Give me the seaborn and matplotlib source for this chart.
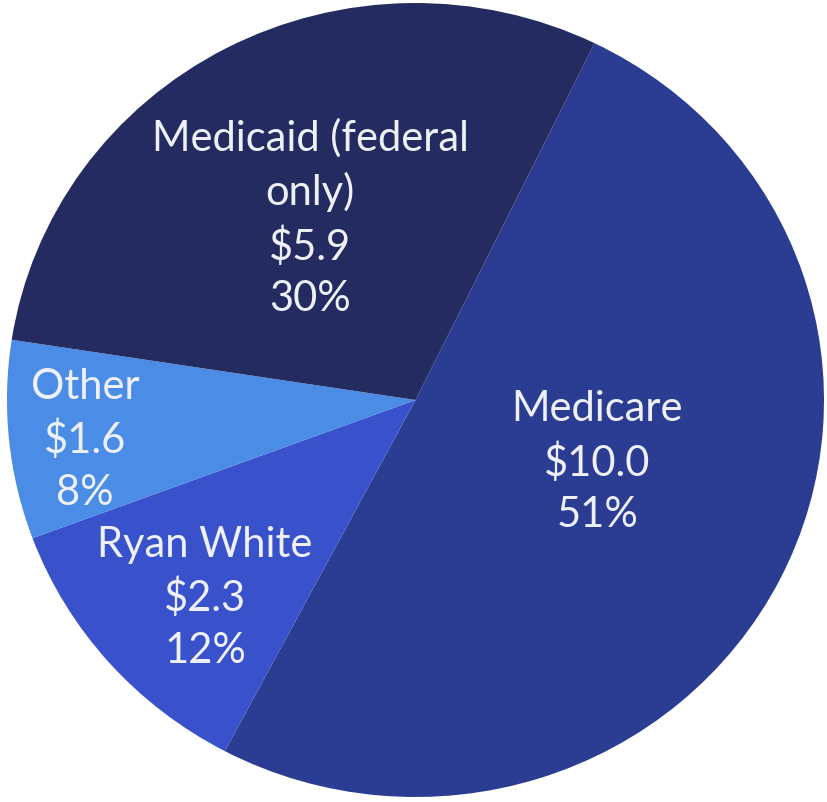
import matplotlib
matplotlib.use("Agg")
import matplotlib.pyplot as plt
import seaborn as sns

categories = ["Medicare", "Ryan White", "Other", "Medicaid (federal\nonly)"]
amounts = [10.0, 2.3, 1.6, 5.9]
percents = ["51%", "12%", "8%", "30%"]
colors = ["#2b3d92", "#3a51cc", "#4a8ce6", "#242b60"]

label_pos = [(0.445, -0.156), (-0.515, -0.498), (-0.809, -0.100), (-0.258, 0.458)]

sns.set_theme(style="white")
plt.rcParams['font.family'] = ['Lato', 'DejaVu Sans']

fig = plt.figure(figsize=(8.27, 8.02), dpi=100)
ax = fig.add_axes([0, 0, 1, 1])
ax.pie(amounts, colors=colors, startangle=64, counterclock=False,
       wedgeprops=dict(linewidth=0))
ax.set_aspect('auto')
ax.set_xlim(-1.0171, 1.0073)
ax.set_ylim(-1.0126, 1.0076)
ax.axis('off')

for cat, amt, pct, (x, y) in zip(categories, amounts, percents, label_pos):
    ax.text(x, y, f"{cat}\n${amt:.1f}\n{pct}", ha='center', va='center',
            color='#eef0f8', fontsize=30, linespacing=1.42)

fig.savefig("out.png", dpi=100)
